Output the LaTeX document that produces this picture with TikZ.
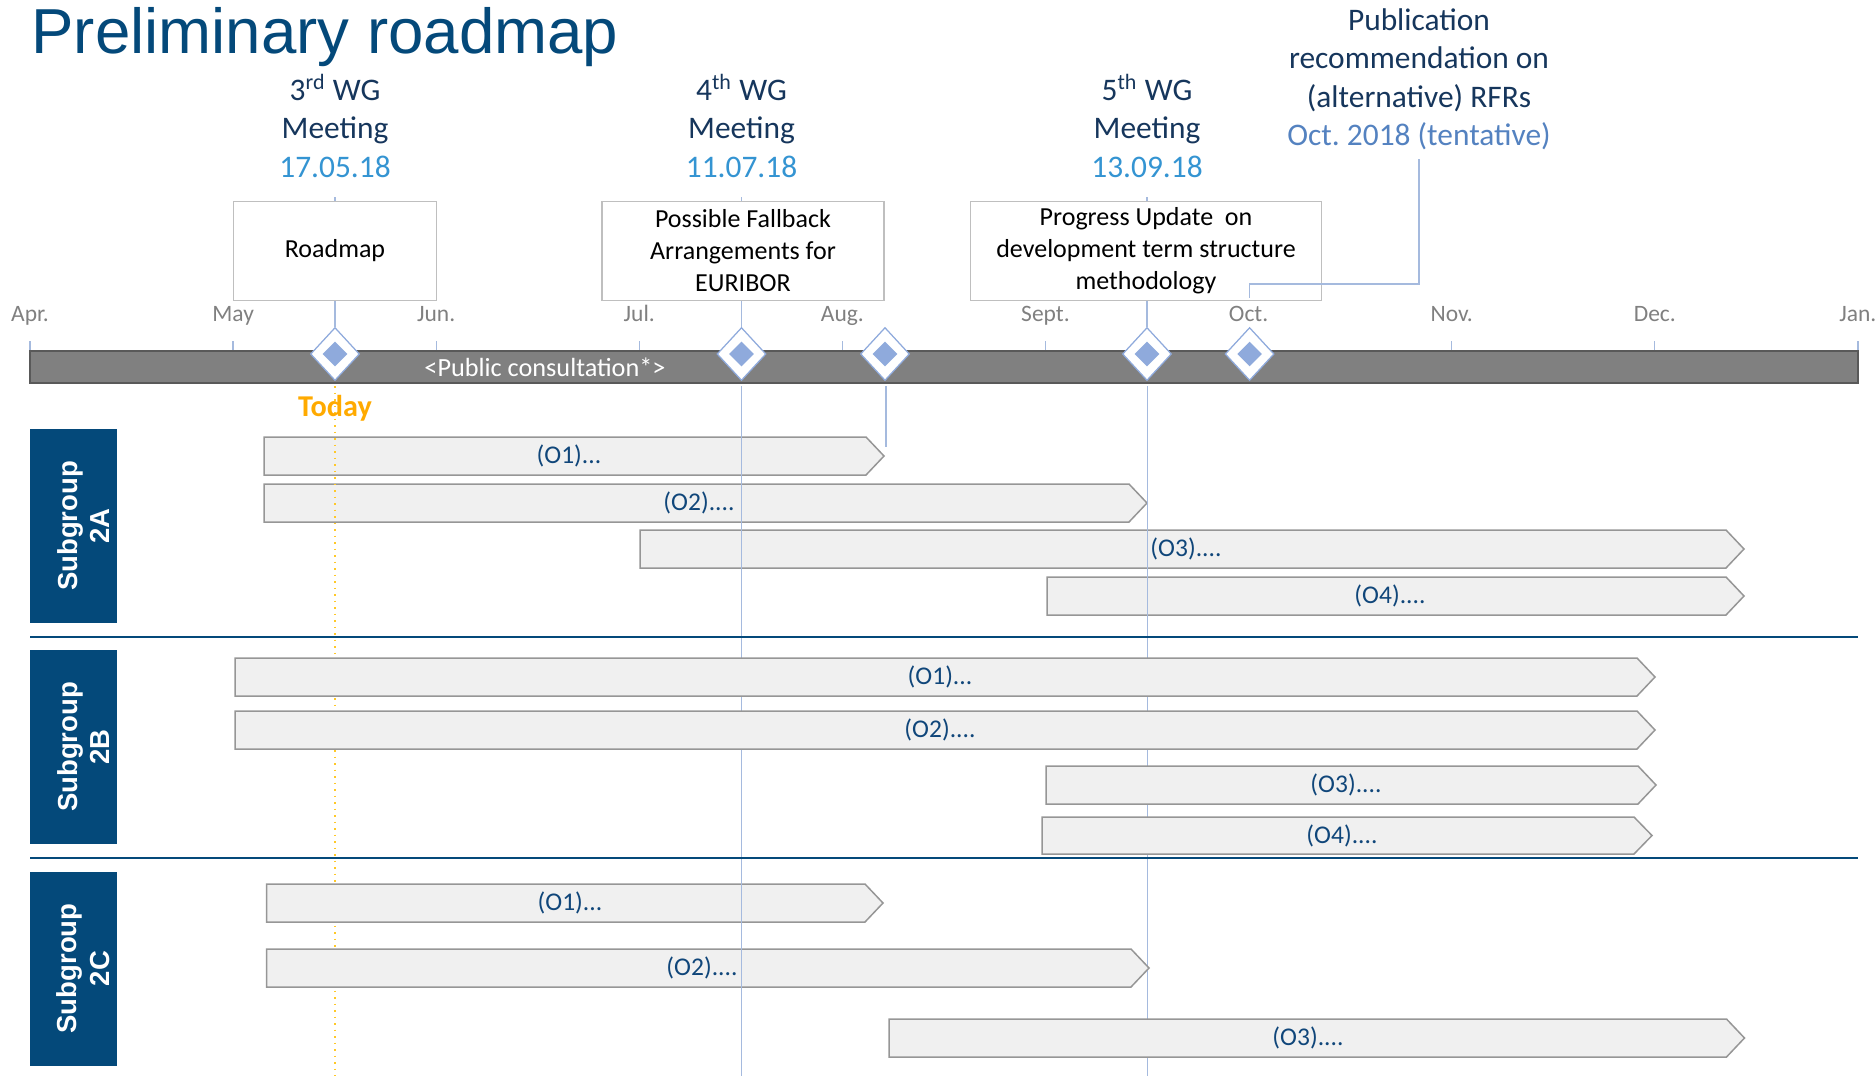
\documentclass[tikz,border=0pt]{standalone}
\usepackage{fontspec}
\setmainfont{Carlito}
\newfontfamily\arialfont{Liberation Sans}
\usetikzlibrary{shapes.geometric}
\frenchspacing

\definecolor{navy}{RGB}{4,73,122}
\definecolor{hdrtext}{RGB}{22,54,92}
\definecolor{datecol}{RGB}{52,148,210}
\definecolor{tentcol}{RGB}{84,130,192}
\definecolor{vlinecol}{RGB}{165,186,222}
\definecolor{barfill}{RGB}{128,128,128}
\definecolor{barline}{RGB}{89,89,89}
\definecolor{taskfill}{RGB}{240,240,240}
\definecolor{taskline}{RGB}{150,150,150}
\definecolor{boxline}{RGB}{191,191,191}
\definecolor{msfill}{RGB}{143,170,220}
\definecolor{todaytext}{RGB}{255,170,0}
\definecolor{todayline}{RGB}{255,200,40}
\definecolor{monthcol}{RGB}{128,128,128}
\definecolor{tasktext}{RGB}{16,70,122}

% one task bar: name, x start, x tip, y top, y bottom, label x, label
\newcommand{\taskbar}[7]{%
  \draw[taskshape] (#2,#4) -- ({#3-18},#4) -- (#3,{(#4+#5)/2}) -- ({#3-18},#5) -- (#2,#5) -- cycle;
  \node[tasklabel] (#1) at (#6,{(#4+#5)/2}) {#7};
}

\begin{document}
\begin{tikzpicture}[x=0.4pt,y=-0.4pt,
  hdr/.style={align=center, inner sep=0, text=hdrtext, font=\fontsize{12.56}{15.4}\selectfont},
  month/.style={inner sep=0, text=monthcol, font=\fontsize{9.4}{11}\selectfont},
  tick/.style={draw=vlinecol, line width=0.5pt},
  vline/.style={draw=vlinecol, line width=0.6pt},
  todayrule/.style={draw=todayline, line width=0.6pt, dotted},
  topicbox/.style={draw=boxline, fill=white, line width=0.6pt, minimum height=39.6pt, align=center, inner sep=0, font=\fontsize{10.4}{12.8}\selectfont},
  axisbar/.style={draw=barline, fill=barfill, line width=0.6pt, minimum width=731.2pt, minimum height=12.8pt, inner sep=0},
  msouter/.style={diamond, draw=msfill, fill=white, line width=0.5pt, minimum width=19.6pt, minimum height=21.2pt, inner sep=0},
  msinner/.style={diamond, fill=msfill, minimum width=10pt, minimum height=10pt, inner sep=0},
  taskshape/.style={draw=taskline, fill=taskfill, line width=0.6pt, line join=miter},
  tasklabel/.style={inner sep=0, text=tasktext, font=\fontsize{10.2}{12}\selectfont},
  sgbox/.style={fill=navy, minimum width=34.6pt, minimum height=77.6pt, inner sep=0},
  sglabel/.style={rotate=90, align=center, inner sep=0, text=white, font=\arialfont\bfseries\fontsize{11}{13.1}\selectfont},
  sep/.style={draw=navy, line width=1pt}
]
\useasboundingbox (0,0) rectangle (1876,1076);

% title
\node[anchor=base west, inner sep=0, text=navy, font=\arialfont\fontsize{25.44}{30}\selectfont] (title) at (31,53) {Preliminary roadmap};

% meeting headers (anchored at the baseline of their last line)
\node[hdr, anchor=base] (hdr3) at (335,177) {3\textsuperscript{rd} WG\\Meeting\\\textcolor{datecol}{17.05.18}};
\node[hdr, anchor=base] (hdr4) at (741.5,177) {4\textsuperscript{th} WG\\Meeting\\\textcolor{datecol}{11.07.18}};
\node[hdr, anchor=base] (hdr5) at (1147,177) {5\textsuperscript{th} WG\\Meeting\\\textcolor{datecol}{13.09.18}};
\node[hdr, anchor=base] (pub) at (1419,145.5) {Publication\\recommendation on\\(alternative) RFRs\\\textcolor{tentcol}{Oct. 2018 (tentative)}};

% month labels and ticks
\foreach \m [count=\i from 0] in {Apr.,May,Jun.,Jul.,Aug.,Sept.,Oct.,Nov.,Dec.,Jan.} {
  \pgfmathsetmacro{\mx}{30+203.1*\i}
  \node[month, anchor=base] (mon\i) at (\mx,321) {\m};
  \draw[tick] (\mx,341) -- (\mx,351);
}

% milestones on the axis
\node[axisbar] (axis) at (944,367) {};
\node[anchor=base, inner sep=0, text=white, font=\fontsize{10.5}{12}\selectfont] (consult) at (545,376) {<Public consultation*>};
\foreach \n/\x in {m3/335, m4/741.5, mAug/885, m5/1147, mOct/1249.6} {
  \node[msouter] (\n) at (\x,354) {};
  \node[msinner] (\n i) at (\x,354) {};
}

% header-to-milestone rules
\coordinate (d3) at (335,197);
\coordinate (d4) at (741.5,197);
\coordinate (d5) at (1147,197);
\draw[vline] (d3) -- (m3.north);
\draw[vline] (d4) -- (m4.north);
\draw[vline] (d5) -- (m5.north);

% topic boxes
\node[topicbox, minimum width=81.2pt] (box3) at (335,251) {Roadmap};
\node[topicbox, minimum width=112.8pt] (box4) at (743,251) {Possible Fallback\\Arrangements for\\EURIBOR};
\node[topicbox, minimum width=140.4pt] (box5) at (1146,251) {Progress Update\ \ on\\development term structure\\methodology};

% publication connector
\coordinate (pubfoot) at (1419,159);
\coordinate (octfoot) at (1249.6,298);
\draw[vline] (pubfoot) -- ++(0,125) -| (octfoot);

% subgroup 2A tasks
\taskbar{a1}{264}{884}{437}{475}{569}{(O1)...}
\taskbar{a2}{264}{1147}{484}{522}{699}{(O2)....}
\taskbar{a3}{640}{1744}{530}{568}{1186}{(O3)....}
\taskbar{a4}{1047}{1744}{577}{615}{1390}{(O4)....}

% today, 5th meeting and August rules
\coordinate (b3) at (335,386);
\coordinate (e3) at (335,1076);
\coordinate (b5) at (1147.5,386);
\coordinate (e5) at (1147.5,1076);
\coordinate (bAug) at (886,386);
\coordinate (eAug) at (886,447);
\draw[todayrule] (b3) -- (e3);
\draw[vline] (b5) -- (e5);
\draw[vline] (bAug) -- (eAug);

% subgroup 2C tasks
\taskbar{c1}{266.5}{883}{884}{922}{570}{(O1)...}
\taskbar{c2}{266.5}{1149}{949}{987}{702}{(O2)....}
\taskbar{c3}{889}{1744.5}{1019}{1057}{1308}{(O3)....}

% 4th meeting rule
\coordinate (b4) at (741.5,386);
\coordinate (e4) at (741.5,1076);
\draw[vline] (b4) -- (e4);

% subgroup 2B tasks
\taskbar{b1}{235}{1655}{658}{696}{940}{(O1)...}
\taskbar{b2}{235}{1655}{711}{749}{940}{(O2)....}
\taskbar{b3l}{1046}{1656}{766}{804}{1346}{(O3)....}
\taskbar{b4l}{1042}{1652}{817}{854}{1342}{(O4)....}

% today label
\node[anchor=base, inner sep=0, text=todaytext, font=\bfseries\fontsize{12.1}{14}\selectfont] (today) at (335,416) {Today};

% subgroup headers and separators
\node[sgbox] (sgA) at (73.25,526) {};
\node[sglabel] (sgAtext) at (83.5,526) {Subgroup\\2A};
\node[sgbox] (sgB) at (73.25,747) {};
\node[sglabel] (sgBtext) at (83.5,747) {Subgroup\\2B};
\node[sgbox] (sgC) at (73.25,968.5) {};
\node[sglabel] (sgCtext) at (83.5,968.5) {Subgroup\\2C};
\coordinate (s1l) at (30,637);
\coordinate (s1r) at (1858,637);
\coordinate (s2l) at (30,858);
\coordinate (s2r) at (1858,858);
\draw[sep] (s1l) -- (s1r);
\draw[sep] (s2l) -- (s2r);
\end{tikzpicture}
\end{document}
